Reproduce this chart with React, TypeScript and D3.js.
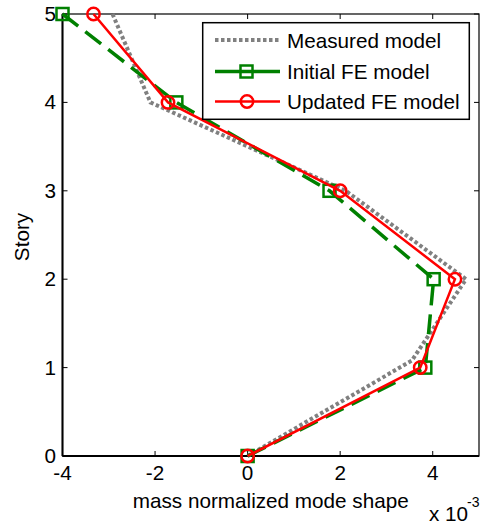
import React from 'react';
import * as d3 from 'd3';

// mode shape values, in units of 1e-3
const stories = [0, 1, 2, 3, 4, 5];
const measuredStories = [0, 1.08, 2, 3, 4, 5];
const measured = [0, 3.55, 4.72, 2.12, -2.1, -2.92];
const initialFE = [0, 3.84, 4.02, 1.77, -1.54, -4.0];
const updatedFE = [0, 3.73, 4.48, 2.0, -1.72, -3.33];

const xTicks = [-4, -2, 0, 2, 4];
const yTicks = [0, 1, 2, 3, 4, 5];
const legendLabels = ['Measured model', 'Initial FE model', 'Updated FE model'];

const W = 483, H = 529;
const margin = { left: 62.5, right: 4, top: 14, bottom: 73 };
const FONT = '"Liberation Sans", Arial, sans-serif';
const FS = 20.7;

const App = () => {
  const x = d3.scaleLinear().domain([-4, 5]).range([margin.left, W - margin.right]);
  const y = d3.scaleLinear().domain([0, 5]).range([H - margin.bottom, margin.top]);

  const line = d3.line<[number, number]>()
    .x(d => x(d[0]))
    .y(d => y(d[1]));

  const measPts: [number, number][] = measured.map((v, i) => [v, measuredStories[i]]);
  const initPts: [number, number][] = initialFE.map((v, i) => [v, stories[i]]);
  const updPts: [number, number][] = updatedFE.map((v, i) => [v, stories[i]]);

  const [x0, x1] = x.range();
  const [y0, y1] = y.range();
  const tickLen = 5;

  const gray = '#808080', green = '#008000', red = '#ff0000';
  const sq = 12, rad = 6.2;

  // legend
  const lg = { x: 202.7, y: 22.7, w: 266.6, h: 96.6 };
  const rowY = [40, 71.5, 101.5];

  return (
    <svg width={W} height={H} style={{ position: 'absolute', left: 0, top: 0, background: '#fff' }}
      fontFamily={FONT}>
      <rect x={0} y={0} width={W} height={H} fill="#fff" />

      {/* axes box */}
      <rect x={x0} y={y1} width={x1 - x0} height={y0 - y1} fill="none" stroke="#000" strokeWidth={1.2} />
      <line x1={x0} x2={x1} y1={y0} y2={y0} stroke="#000" strokeWidth={2} />
      <line x1={x0} x2={x0} y1={y0} y2={y1} stroke="#000" strokeWidth={2} />

      {xTicks.map(t => (
        <g key={'xt' + t}>
          <line x1={x(t)} x2={x(t)} y1={y0} y2={y0 - tickLen} stroke="#000" strokeWidth={1} />
          <line x1={x(t)} x2={x(t)} y1={y1} y2={y1 + tickLen} stroke="#000" strokeWidth={1} />
          <text x={x(t)} y={y0 + 24} fontSize={FS} textAnchor="middle">{t}</text>
        </g>
      ))}
      {yTicks.map(t => (
        <g key={'yt' + t}>
          <line x1={x0} x2={x0 + tickLen} y1={y(t)} y2={y(t)} stroke="#000" strokeWidth={1} />
          <line x1={x1} x2={x1 - tickLen} y1={y(t)} y2={y(t)} stroke="#000" strokeWidth={1} />
          <text x={56} y={y(t) + 7} fontSize={FS} textAnchor="end">{t}</text>
        </g>
      ))}

      {/* series */}
      <path d={line(measPts) || ''} fill="none" stroke={gray} strokeWidth={4} strokeDasharray="3.5,2.5" />
      <path d={line(initPts) || ''} fill="none" stroke={green} strokeWidth={3.5} strokeDasharray="20,9" />
      {initPts.map((p, i) => (
        <rect key={'s' + i} x={x(p[0]) - sq / 2} y={y(p[1]) - sq / 2} width={sq} height={sq}
          fill="none" stroke={green} strokeWidth={2.5} />
      ))}
      <path d={line(updPts) || ''} fill="none" stroke={red} strokeWidth={2.5} />
      {updPts.map((p, i) => (
        <circle key={'c' + i} cx={x(p[0])} cy={y(p[1])} r={rad} fill="none" stroke={red} strokeWidth={2.5} />
      ))}

      {/* legend */}
      <rect x={lg.x} y={lg.y} width={lg.w} height={lg.h} fill="#fff" stroke="#000" strokeWidth={1.5} />
      <line x1={215} x2={280} y1={rowY[0]} y2={rowY[0]} stroke={gray} strokeWidth={4} strokeDasharray="3.5,2.5" />
      <line x1={215} x2={280} y1={rowY[1]} y2={rowY[1]} stroke={green} strokeWidth={3.5} />
      <rect x={246.5 - sq / 2} y={rowY[1] - sq / 2} width={sq} height={sq} fill="none" stroke={green} strokeWidth={2.5} />
      <line x1={215} x2={280} y1={rowY[2]} y2={rowY[2]} stroke={red} strokeWidth={2.5} />
      <circle cx={247} cy={rowY[2]} r={rad} fill="none" stroke={red} strokeWidth={2.5} />
      {legendLabels.map((l, i) => (
        <text key={l} x={287} y={rowY[i] + 7.5} fontSize={FS}>{l}</text>
      ))}

      {/* axis labels */}
      <text x={(x0 + x1) / 2} y={508} fontSize={FS} textAnchor="middle">mass normalized mode shape</text>
      <text transform={`translate(29,237) rotate(-90)`} fontSize={FS} textAnchor="middle">Story</text>
      <text x={429} y={521} fontSize={FS}>x 10</text>
      <text x={467} y={507} fontSize={14}>-3</text>
    </svg>
  );
};

export default App;
